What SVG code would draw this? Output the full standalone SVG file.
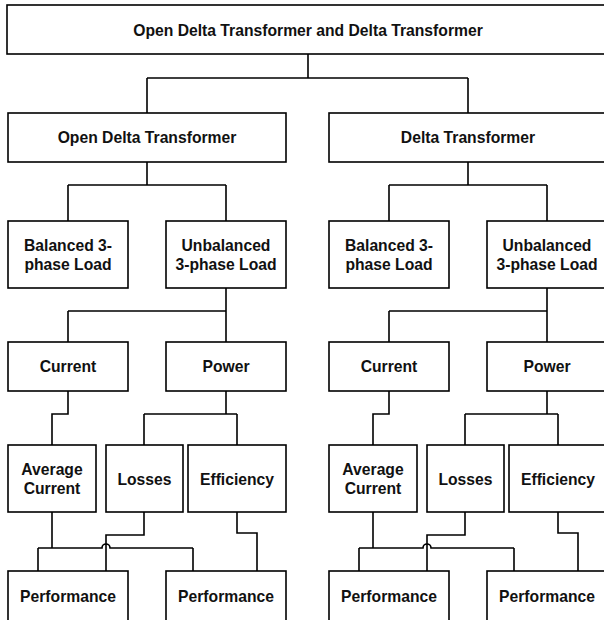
<svg xmlns="http://www.w3.org/2000/svg" width="604" height="620" viewBox="0 0 604 620">
<style>
.b{fill:#fff;stroke:#000;stroke-width:1.6}
.t{font-family:"Liberation Sans",Arial,sans-serif;font-weight:bold;font-size:15.7px;fill:#111;text-anchor:middle}
.c{fill:none;stroke:#000;stroke-width:1.6}
</style>
<rect width="604" height="620" fill="#fff"/>
<g id="connectors" class="c">
<path d="M308,54V78M147,78H468M147,78V113M468,78V113"/>
<g id="conn-left">
<path d="M147,162V185M68,185H226M68,185V221M226,185V221"/>
<path d="M226,288V342M68,311H226M68,311V342"/>
<path d="M68,391V414H52V445"/>
<path d="M226,391V414M144,414H237M144,414V445M237,414V445"/>
<path d="M52,512V548M38,548H102A4,4 0 0 1 110,548H193M38,548V571M193,548V571"/>
<path d="M144,512V535H106V571"/>
<path d="M237,512V533H257V571"/>
</g>
<g id="conn-right" transform="translate(321,0)">
<path d="M147,162V185M68,185H226M68,185V221M226,185V221"/>
<path d="M226,288V342M68,311H226M68,311V342"/>
<path d="M68,391V414H52V445"/>
<path d="M226,391V414M144,414H237M144,414V445M237,414V445"/>
<path d="M52,512V548M38,548H102A4,4 0 0 1 110,548H193M38,548V571M193,548V571"/>
<path d="M144,512V535H106V571"/>
<path d="M237,512V533H257V571"/>
</g>
</g>
<g id="root"><rect class="b" x="7" y="5" width="602" height="49"/><text class="t" x="308" y="35.5">Open Delta Transformer and Delta Transformer</text></g>
<g id="open-delta"><rect class="b" x="8" y="113" width="278" height="49"/><text class="t" x="147" y="143.3">Open Delta Transformer</text></g>
<g id="od-balanced"><rect class="b" x="8" y="221" width="120" height="67"/><text class="t" x="68" y="250.5">Balanced 3-</text><text class="t" x="68" y="269.5">phase Load</text></g>
<g id="od-unbalanced"><rect class="b" x="166" y="221" width="120" height="67"/><text class="t" x="226" y="250.5">Unbalanced</text><text class="t" x="226" y="269.5">3-phase Load</text></g>
<g id="od-current"><rect class="b" x="8" y="342" width="120" height="49"/><text class="t" x="68" y="372.3">Current</text></g>
<g id="od-power"><rect class="b" x="166" y="342" width="120" height="49"/><text class="t" x="226" y="372.3">Power</text></g>
<g id="od-average"><rect class="b" x="8" y="445" width="88" height="67"/><text class="t" x="52" y="474.5">Average</text><text class="t" x="52" y="493.5">Current</text></g>
<g id="od-losses"><rect class="b" x="106" y="445" width="77" height="67"/><text class="t" x="144.5" y="484.5">Losses</text></g>
<g id="od-efficiency"><rect class="b" x="188" y="445" width="98" height="67"/><text class="t" x="237" y="484.5">Efficiency</text></g>
<g id="od-perf1"><rect class="b" x="8" y="571" width="120" height="50"/><text class="t" x="68" y="601.5">Performance</text></g>
<g id="od-perf2"><rect class="b" x="166" y="571" width="120" height="50"/><text class="t" x="226" y="601.5">Performance</text></g>
<g id="delta"><rect class="b" x="329" y="113" width="278" height="49"/><text class="t" x="468" y="143.3">Delta Transformer</text></g>
<g id="d-balanced"><rect class="b" x="329" y="221" width="120" height="67"/><text class="t" x="389" y="250.5">Balanced 3-</text><text class="t" x="389" y="269.5">phase Load</text></g>
<g id="d-unbalanced"><rect class="b" x="487" y="221" width="120" height="67"/><text class="t" x="547" y="250.5">Unbalanced</text><text class="t" x="547" y="269.5">3-phase Load</text></g>
<g id="d-current"><rect class="b" x="329" y="342" width="120" height="49"/><text class="t" x="389" y="372.3">Current</text></g>
<g id="d-power"><rect class="b" x="487" y="342" width="120" height="49"/><text class="t" x="547" y="372.3">Power</text></g>
<g id="d-average"><rect class="b" x="329" y="445" width="88" height="67"/><text class="t" x="373" y="474.5">Average</text><text class="t" x="373" y="493.5">Current</text></g>
<g id="d-losses"><rect class="b" x="427" y="445" width="77" height="67"/><text class="t" x="465.5" y="484.5">Losses</text></g>
<g id="d-efficiency"><rect class="b" x="509" y="445" width="98" height="67"/><text class="t" x="558" y="484.5">Efficiency</text></g>
<g id="d-perf1"><rect class="b" x="329" y="571" width="120" height="50"/><text class="t" x="389" y="601.5">Performance</text></g>
<g id="d-perf2"><rect class="b" x="487" y="571" width="120" height="50"/><text class="t" x="547" y="601.5">Performance</text></g>
</svg>
